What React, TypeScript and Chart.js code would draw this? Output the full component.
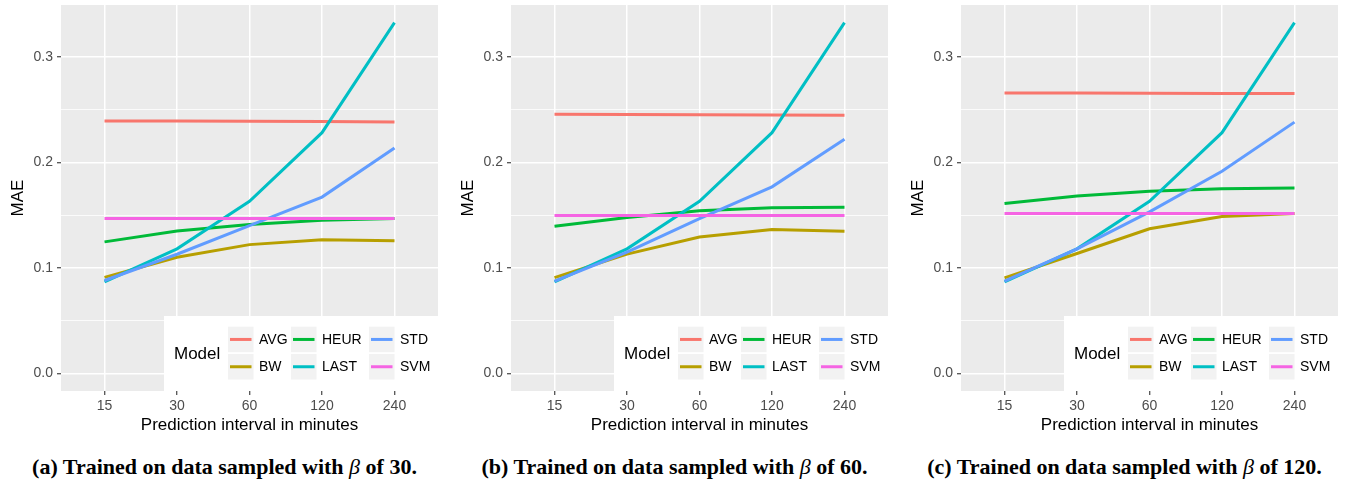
import React, { useEffect, useRef } from "react";
import { Chart, registerables } from "chart.js";

Chart.register(...registerables);

const categories = ["15", "30", "60", "120", "240"];
const models = ["AVG", "BW", "HEUR", "LAST", "STD", "SVM"];
const modelColors = ["#F8766D", "#B79F00", "#00BA38", "#00BFC4", "#619CFF", "#F564E3"];

const lastAll = [0.0868, 0.118, 0.163, 0.228, 0.3322];

const avgA = [0.239, 0.239, 0.2388, 0.2385, 0.238];
const bwA = [0.091, 0.11, 0.122, 0.1265, 0.1256];
const heurA = [0.1246, 0.135, 0.141, 0.145, 0.1467];
const stdA = [0.088, 0.1129, 0.14, 0.167, 0.2136];
const svmA = [0.1467, 0.1467, 0.1467, 0.1467, 0.1467];

const avgB = [0.2454, 0.2452, 0.245, 0.2448, 0.2445];
const bwB = [0.0908, 0.113, 0.1293, 0.1363, 0.1347];
const heurB = [0.1394, 0.1476, 0.154, 0.1568, 0.1574];
const stdB = [0.0874, 0.115, 0.1467, 0.1767, 0.2218];
const svmB = [0.1495, 0.1495, 0.1495, 0.1495, 0.1495];

const avgC = [0.2656, 0.2655, 0.2653, 0.2652, 0.265];
const bwC = [0.0905, 0.1136, 0.137, 0.1486, 0.1514];
const heurC = [0.161, 0.168, 0.1726, 0.1748, 0.1757];
const stdC = [0.0874, 0.118, 0.153, 0.1915, 0.238];
const svmC = [0.1514, 0.1514, 0.1514, 0.1514, 0.1514];

const yTicks = [0, 0.05, 0.1, 0.15, 0.2, 0.25, 0.3];
const yMin = -0.0166;
const yMax = 0.3489;

const panels = [
  { caption: "(a) Trained on data sampled with ", beta: "30", series: [avgA, bwA, heurA, lastAll, stdA, svmA] },
  { caption: "(b) Trained on data sampled with ", beta: "60", series: [avgB, bwB, heurB, lastAll, stdB, svmB] },
  { caption: "(c) Trained on data sampled with ", beta: "120", series: [avgC, bwC, heurC, lastAll, stdC, svmC] },
];

const SANS = '"Liberation Sans", Arial, Helvetica, sans-serif';
const W = 449;
const H = 440;

const isMajor = (v: number) => Math.abs(v * 10 - Math.round(v * 10)) < 1e-6;

const bgPlugin = {
  id: "ggBg",
  beforeDraw(chart: any) {
    const { ctx, chartArea: ca } = chart;
    ctx.save();
    ctx.fillStyle = "#EBEBEB";
    ctx.fillRect(ca.left, ca.top, ca.right - ca.left, ca.bottom - ca.top);
    ctx.restore();
  },
};

const legendPlugin = {
  id: "ggLegend",
  afterDraw(chart: any) {
    const { ctx, chartArea: ca } = chart;
    const R = ca.right;
    const B = ca.bottom;
    const boxL = R - 274;
    const boxT = B - 75;
    ctx.save();
    ctx.fillStyle = "#FFFFFF";
    ctx.fillRect(boxL, boxT, R - boxL, B - boxT);
    ctx.fillStyle = "#000000";
    ctx.font = `17px ${SANS}`;
    ctx.textBaseline = "middle";
    ctx.textAlign = "left";
    ctx.fillText("Model", boxL + 10, B - 37);
    const colOff = [210, 147, 69];
    const rowOff = [64.3, 37];
    const ds = chart.data.datasets;
    ds.forEach((d: any, i: number) => {
      const col = Math.floor(i / 2);
      const row = i % 2;
      const kx = R - colOff[col];
      const ky = B - rowOff[row];
      ctx.fillStyle = "#F2F2F2";
      ctx.fillRect(kx, ky, 25.5, 25.5);
      ctx.strokeStyle = d.borderColor;
      ctx.lineWidth = 3;
      ctx.lineCap = "butt";
      ctx.beginPath();
      ctx.moveTo(kx + 2, ky + 12.75);
      ctx.lineTo(kx + 23.5, ky + 12.75);
      ctx.stroke();
      ctx.fillStyle = "#000000";
      ctx.font = `14px ${SANS}`;
      ctx.fillText(d.label, kx + 31, ky + 13.5);
    });
    ctx.restore();
  },
};

function Panel({ series }: { series: number[][] }) {
  const ref = useRef<HTMLCanvasElement | null>(null);
  useEffect(() => {
    if (!ref.current) return;
    const datasets = models.map((m, i) => ({
      label: m,
      data: categories.map((_, j) => ({ x: j, y: series[i][j] })),
      borderColor: modelColors[i],
      backgroundColor: modelColors[i],
      borderWidth: 3,
      pointRadius: 0,
      tension: 0,
      fill: false,
      order: models.length - 1 - i,
    }));
    const chart = new Chart(ref.current, {
      type: "line",
      data: { datasets },
      plugins: [bgPlugin, legendPlugin],
      options: {
        responsive: false,
        animation: false,
        parsing: false as any,
        normalized: true,
        layout: { padding: { left: 0, top: 5, right: 11, bottom: 0 } },
        plugins: { legend: { display: false }, tooltip: { enabled: false } },
        scales: {
          x: {
            type: "linear",
            min: -0.6,
            max: categories.length - 1 + 0.6,
            afterBuildTicks: (scale: any) => {
              scale.ticks = categories.map((_, i) => ({ value: i }));
            },
            afterFit: (scale: any) => {
              scale.height = 49;
              scale.paddingLeft = 0;
              scale.paddingRight = 0;
            },
            border: { display: false },
            grid: {
              color: "#FFFFFF",
              lineWidth: 1.5,
              tickLength: 4,
              tickColor: "#333333",
              tickWidth: 1.1,
            },
            ticks: {
              autoSkip: false,
              maxRotation: 0,
              padding: 3,
              color: "#4D4D4D",
              font: { family: SANS, size: 14 },
              callback: (v: any) => categories[Math.round(Number(v))] ?? "",
            },
            title: {
              display: true,
              text: "Prediction interval in minutes",
              color: "#000000",
              font: { family: SANS, size: 17 },
              padding: { top: 0, bottom: 4 },
            },
          },
          y: {
            type: "linear",
            min: yMin,
            max: yMax,
            afterBuildTicks: (scale: any) => {
              scale.ticks = yTicks.map((v) => ({ value: v }));
            },
            afterFit: (scale: any) => {
              scale.width = 61;
              scale.paddingTop = 0;
              scale.paddingBottom = 0;
            },
            border: { display: false },
            grid: {
              color: "#FFFFFF",
              lineWidth: (c: any) => (c.tick && isMajor(c.tick.value) ? 1.5 : 0.8),
              tickLength: 4,
              tickColor: (c: any) => (c.tick && isMajor(c.tick.value) ? "#333333" : "rgba(0,0,0,0)"),
              tickWidth: 1.1,
            },
            ticks: {
              autoSkip: false,
              padding: 4,
              color: "#4D4D4D",
              font: { family: SANS, size: 14 },
              callback: (v: any) => (isMajor(Number(v)) ? Number(v).toFixed(1) : ""),
            },
            title: {
              display: true,
              text: "MAE",
              color: "#000000",
              font: { family: SANS, size: 17 },
              padding: { top: 8, bottom: 0 },
            },
          },
        },
      } as any,
    });
    return () => chart.destroy();
  }, [series]);
  return <canvas ref={ref} width={W} height={H} style={{ display: "block", width: W, height: H }} />;
}

export default function App() {
  return (
    <div style={{ position: "absolute", left: 0, top: 0, width: 1347, height: 485, background: "#FFFFFF", overflow: "hidden" }}>
      {panels.map((p, i) => (
        <div key={i} style={{ position: "absolute", left: i * 450, top: 0, width: W, height: 485 }}>
          <Panel series={p.series} />
          <div
            style={{
              position: "absolute",
              left: 0,
              top: 454,
              width: W,
              textAlign: "center",
              lineHeight: "26px",
              fontFamily: '"Liberation Serif", "DejaVu Serif", serif',
              fontWeight: "bold",
              fontSize: 22,
              color: "#000000",
              whiteSpace: "nowrap",
            }}
          >
            {p.caption}
            <span style={{ fontStyle: "italic", fontWeight: "normal" }}>β</span>
            {" of " + p.beta + "."}
          </div>
        </div>
      ))}
    </div>
  );
}
